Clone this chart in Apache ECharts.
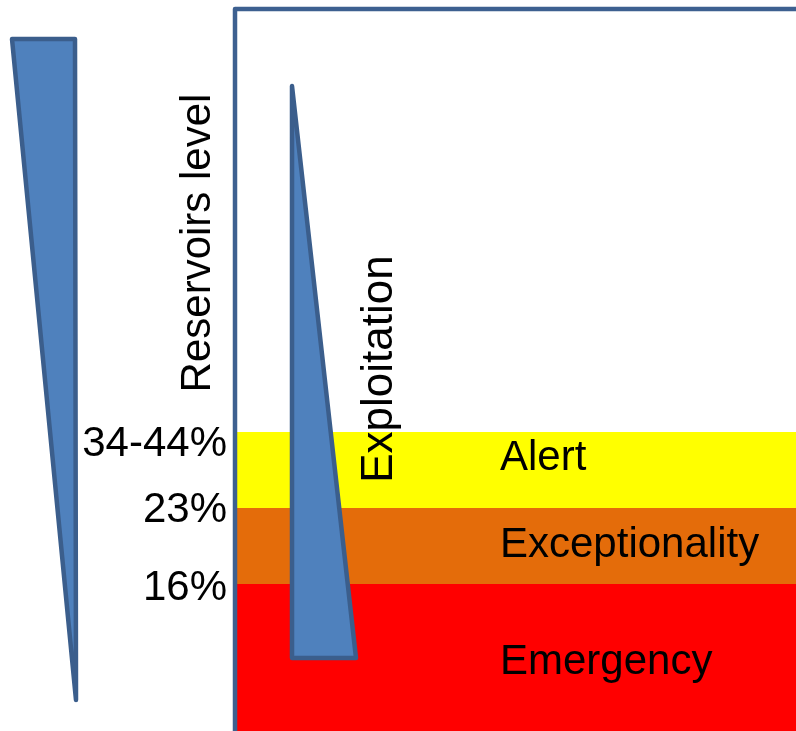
<!DOCTYPE html>
<html><head><meta charset="utf-8">
<script src="https://cdn.jsdelivr.net/npm/echarts@6/dist/echarts.min.js"></script>
<style>html,body{margin:0;padding:0;background:#fff}#c{width:796px;height:731px}</style>
</head><body><div id="c"></div>
<script>
// Diagram units: x to the right, y upward from the bottom of the picture
const bandNames = ['Emergency', 'Exceptionality', 'Alert'];
const bandLow = [0, 147, 223];
const bandHigh = [147, 223, 299];
const bandStart = 237, bandEnd = 796;
const bandLabelX = 500;
const bandLabelY = [69, 186, 273];
const thresholdLabels = ['16%', '23%', '34-44%'];
const thresholdLabelY = [143, 221, 287];
const thresholdLabelX = 227;
const frameLine = [[235, 0], [235, 722], [796, 722]];
const reservoirWedge = [[12, 692], [75, 692], [76, 31]];
const exploitationWedge = [[292, 645], [292, 73], [356, 73]];
const axisTitles = ['Reservoirs level', 'Exploitation'];
const axisTitleX = [198, 380];
const axisTitleY = [488, 362];

const bandColors = ['#ff0000', '#e46c0a', '#ffff00'];
const FONT = '"Liberation Sans", Arial, sans-serif';
const FS = 42;

const chart = echarts.init(document.getElementById('c'), null, {renderer: 'canvas'});

const polygons = [reservoirWedge, exploitationWedge];

const option = {
  animation: false,
  grid: {left: 0, right: 0, top: 0, bottom: 0},
  xAxis: {type: 'value', min: 0, max: 796, show: false},
  yAxis: {type: 'value', min: 0, max: 731, show: false},
  series: [
    {
      type: 'custom',
      name: 'bands',
      data: bandNames.map((n, i) => [bandStart, bandLow[i], bandEnd, bandHigh[i]]),
      renderItem: function (params, api) {
        const tl = api.coord([api.value(0), api.value(3)]);
        const br = api.coord([api.value(2), api.value(1)]);
        return {
          type: 'rect',
          shape: {x: tl[0], y: tl[1], width: br[0] - tl[0], height: br[1] - tl[1]},
          style: {fill: bandColors[params.dataIndex]}
        };
      },
      z: 1
    },
    {
      type: 'line',
      name: 'frame',
      data: frameLine,
      symbol: 'none',
      lineStyle: {color: '#3d6090', width: 4.5, cap: 'round', join: 'round'},
      z: 2
    },
    {
      type: 'custom',
      name: 'wedges',
      data: polygons.map((p, i) => [i]),
      renderItem: function (params, api) {
        const pts = polygons[params.dataIndex].map(p => api.coord(p));
        return {
          type: 'polygon',
          shape: {points: pts},
          style: {fill: '#4f81bd', stroke: '#3b5e8c', lineWidth: 4.5, lineJoin: 'round'}
        };
      },
      z: 3
    },
    {
      type: 'custom',
      name: 'thresholds',
      data: thresholdLabels.map((t, i) => [thresholdLabelX, thresholdLabelY[i]]),
      renderItem: function (params, api) {
        const p = api.coord([api.value(0), api.value(1)]);
        return {
          type: 'text', x: p[0], y: p[1],
          style: {text: thresholdLabels[params.dataIndex], fill: '#000', fontSize: FS, fontFamily: FONT, align: 'right', verticalAlign: 'middle'}
        };
      },
      z: 4
    },
    {
      type: 'custom',
      name: 'bandLabels',
      data: bandNames.map((t, i) => [bandLabelX, bandLabelY[i]]),
      renderItem: function (params, api) {
        const p = api.coord([api.value(0), api.value(1)]);
        return {
          type: 'text', x: p[0], y: p[1],
          style: {text: bandNames[params.dataIndex], fill: '#000', fontSize: FS, fontFamily: FONT, align: 'left', verticalAlign: 'middle'}
        };
      },
      z: 4
    },
    {
      type: 'custom',
      name: 'titles',
      data: axisTitles.map((t, i) => [axisTitleX[i], axisTitleY[i]]),
      renderItem: function (params, api) {
        const p = api.coord([api.value(0), api.value(1)]);
        return {
          type: 'text', x: p[0], y: p[1], rotation: Math.PI / 2,
          style: {text: axisTitles[params.dataIndex], fill: '#000', fontSize: params.dataIndex === 1 ? 44 : FS, fontFamily: FONT, align: 'center', verticalAlign: 'middle'}
        };
      },
      z: 4
    }
  ]
};
chart.setOption(option);
</script>
</body></html>
